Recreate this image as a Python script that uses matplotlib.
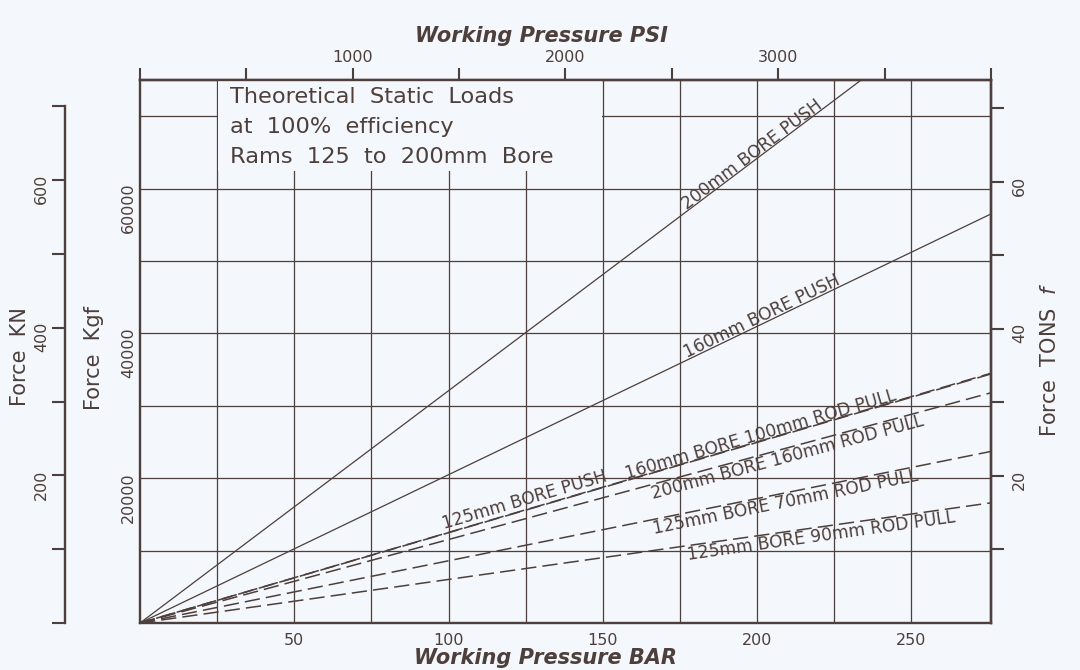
import numpy as np
import matplotlib
matplotlib.use("Agg")
import matplotlib.pyplot as plt
import matplotlib.transforms as mtransforms
from matplotlib.patches import Rectangle

# ---------------- data ----------------
pressure_range_bar = [0.0, 275.79]          # 0 .. 4000 psi
series_names = [
    "200mm BORE PUSH",
    "160mm BORE PUSH",
    "125mm BORE PUSH",
    "160mm BORE 100mm ROD PULL",
    "200mm BORE 160mm ROD PULL",
    "125mm BORE 70mm ROD PULL",
    "125mm BORE 90mm ROD PULL",
]
force_start_kgf = [0, 0, 0, 0, 0, 0, 0]
force_end_kgf = [88500, 56500, 34500, 34400, 31800, 23700, 16600]

bar_ticks = [25, 50, 75, 100, 125, 150, 175, 200, 225, 250]
bar_labels = ["", "50", "", "100", "", "150", "", "200", "", "250"]
kgf_ticks = [10000, 20000, 30000, 40000, 50000, 60000, 70000]
kgf_labels = ["", "20000", "", "40000", "", "60000", ""]
psi_ticks = [0, 500, 1000, 1500, 2000, 2500, 3000, 3500, 4000]
psi_labels = ["", "", "1000", "", "2000", "", "3000", "", ""]
kn_ticks = [0, 100, 200, 300, 400, 500, 600, 700]
kn_labels = ["", "", "200", "", "400", "", "600", ""]
ton_ticks = [10, 20, 30, 40, 50, 60, 70]
ton_labels = ["", "20", "", "40", "", "60", ""]

note_lines = ["Theoretical  Static  Loads", "at  100%  efficiency", "Rams  125  to  200mm  Bore"]

# unit conversions
PSI_PER_BAR = 14.5038
KGF_PER_KN = 101.972
KGF_PER_TON = 1016.05

# ---------------- styling ----------------
BG = "#f4f7fb"
INK = "#4d3f3b"
plt.rcParams["font.family"] = ["DejaVu Sans"]

fig = plt.figure(figsize=(10.8, 6.7), dpi=100, facecolor=BG)
ax = fig.add_axes([140 / 1080, 47 / 670, 851 / 1080, 543 / 670])
ax.set_facecolor(BG)
ax.set_xlim(pressure_range_bar)
ax.set_ylim(0, 75000)
ax.set_axisbelow(True)

ax.set_xticks(bar_ticks)
ax.set_xticklabels(bar_labels)
ax.set_yticks(kgf_ticks)
ax.set_yticklabels(kgf_labels)
ax.grid(True, color=INK, lw=0.9)
ax.tick_params(axis="both", length=0, labelcolor=INK, labelsize=11.5)
ax.tick_params(axis="x", pad=7)
ax.tick_params(axis="y", pad=3, labelrotation=90)
for s in ax.spines.values():
    s.set_color(INK)
    s.set_linewidth(1.7)

# top PSI axis
top = ax.secondary_xaxis("top", functions=(lambda b: b * PSI_PER_BAR, lambda p: p / PSI_PER_BAR))
top.set_xticks(psi_ticks)
top.set_xticklabels(psi_labels)
top.tick_params(direction="out", length=8.6, width=1.5, pad=2, labelsize=11.5,
                color=INK, labelcolor=INK)
top.spines["top"].set_color(INK)
top.spines["top"].set_linewidth(1.7)

# right TONS axis
right = ax.secondary_yaxis("right", functions=(lambda k: k / KGF_PER_TON, lambda t: t * KGF_PER_TON))
right.set_yticks(ton_ticks)
right.set_yticklabels(ton_labels)
right.tick_params(direction="out", length=9, width=1.5, pad=6, labelsize=11.5,
                  color=INK, labelcolor=INK, labelrotation=90)
right.spines["right"].set_color(INK)
right.spines["right"].set_linewidth(1.7)

# outer left KN axis
kn = ax.secondary_yaxis(-75 / 851, functions=(lambda k: k / KGF_PER_KN, lambda n: n * KGF_PER_KN))
kn.set_yticks(kn_ticks)
kn.set_yticklabels(kn_labels)
kn.tick_params(direction="out", length=9.4, width=1.5, pad=2, labelsize=11.5,
               color=INK, labelcolor=INK, labelrotation=90)
kn.spines["left"].set_color(INK)
kn.spines["left"].set_linewidth(1.7)
kn.spines["left"].set_bounds(0, 700)

# note box (blanks out the grid behind it)
ax.add_patch(Rectangle((25.4, 62400), 124.3, 13000, facecolor=BG, edgecolor="none", zorder=1))
for i, line in enumerate(note_lines):
    ax.text(0.106, 0.9687 - i * 0.0553, line, transform=ax.transAxes, va="center", ha="left",
            fontsize=16.2, color=INK, zorder=4)

# ---------------- lines ----------------
styles = ["-", "-", (0, (10, 4)), (3, (10, 4)), (0, (10, 4)), (0, (10, 4)), (0, (10, 4))]
widths = [0.9, 0.9, 1.1, 1.1, 1.1, 1.1, 1.1]
for name, f0, f1, ls, lw in zip(series_names, force_start_kgf, force_end_kgf, styles, widths):
    ax.plot(pressure_range_bar, [f0, f1], color=INK, lw=lw, linestyle=ls, zorder=2)

# line labels: start pressure, side (+1 above line, -1 below)
label_start_bar = [177.5, 177.5, 99, 158, 165, 165.5, 177]
label_side = [1, 1, 1, 1, -1, -1, -1]
label_gap = [1.0, 1.0, 3.0, 1.0, 0.5, 0.5, 0.5]
for name, f0, f1, x0, side, gap in zip(series_names, force_start_kgf, force_end_kgf,
                                     label_start_bar, label_side, label_gap):
    p0 = ax.transData.transform((pressure_range_bar[0], f0))
    p1 = ax.transData.transform((pressure_range_bar[1], f1))
    ang = np.degrees(np.arctan2(p1[1] - p0[1], p1[0] - p0[0]))
    y0 = np.interp(x0, pressure_range_bar, [f0, f1])
    nx, ny = -np.sin(np.radians(ang)), np.cos(np.radians(ang))
    tr = mtransforms.offset_copy(ax.transData, fig=fig, x=nx * gap * side, y=ny * gap * side,
                                 units="points")
    ax.text(x0, y0, name, transform=tr, rotation=ang, rotation_mode="anchor",
            ha="left", va="baseline" if side > 0 else "top", fontsize=12.3, color=INK, zorder=3)

# ---------------- axis titles ----------------
ax.text(0.472, 1.081, "Working Pressure PSI", transform=ax.transAxes, ha="center", va="center",
        fontsize=15, fontweight="bold", style="italic", color=INK)
ax.text(0.477, -0.0645, "Working Pressure BAR", transform=ax.transAxes, ha="center", va="center",
        fontsize=15, fontweight="bold", style="italic", color=INK)
ax.text(-0.141, 0.49, "Force  KN", transform=ax.transAxes, ha="center", va="center",
        rotation=90, fontsize=15, color=INK)
ax.text(-0.0546, 0.488, "Force  Kgf", transform=ax.transAxes, ha="center", va="center",
        rotation=90, fontsize=15, color=INK)
ax.text(1.069, 0.484, "Force  TONS  $\\mathit{f}$", transform=ax.transAxes, ha="center", va="center",
        rotation=90, fontsize=15, color=INK)

fig.savefig("out.png", dpi=100, facecolor=BG)
